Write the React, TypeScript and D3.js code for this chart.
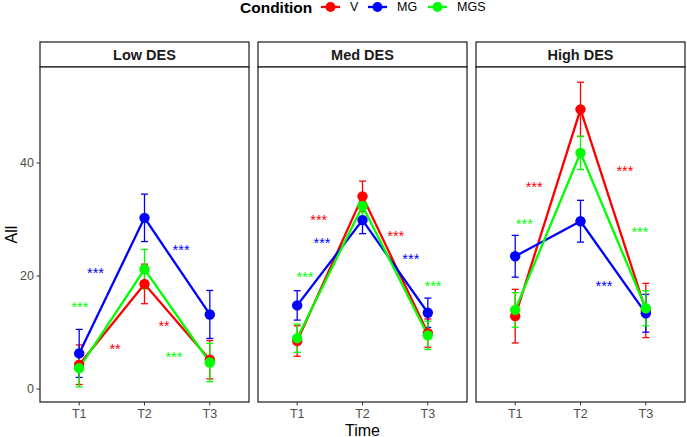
import React from "react";
import * as d3 from "d3";

// facets, x categories and groups
const panels = ["Low DES", "Med DES", "High DES"];
const times = ["T1", "T2", "T3"];
const conditions = ["V", "MG", "MGS"];

// mean per condition (rows V, MG, MGS) at T1..T3
const lowMean = [
  [4.3, 18.6, 5.2],
  [6.3, 30.3, 13.2],
  [3.7, 21.2, 4.7],
];
const medMean = [
  [8.5, 34.1, 9.9],
  [14.8, 29.9, 13.5],
  [9.0, 32.4, 9.5],
];
const highMean = [
  [12.9, 49.5, 13.9],
  [23.5, 29.7, 13.4],
  [14.0, 41.8, 14.3],
];

// error bar half widths, same layout
const lowErr = [
  [3.5, 3.5, 3.4],
  [4.25, 4.2, 4.25],
  [3.3, 3.5, 3.4],
];
const medErr = [
  [2.7, 2.7, 2.5],
  [2.6, 2.4, 2.6],
  [2.5, 1.8, 2.5],
];
const highErr = [
  [4.75, 4.8, 4.8],
  [3.7, 3.7, 3.35],
  [3.05, 2.95, 3.1],
];

// significance labels: [condition index, x (1 = T1), y, label]
type Star = [number, number, number, string];
const lowStars: Star[] = [
  [1, 1.25, 21.0, "***"],
  [1, 2.56, 25.2, "***"],
  [2, 1.01, 15.1, "***"],
  [0, 1.55, 7.6, "**"],
  [0, 2.3, 11.6, "**"],
  [2, 2.45, 6.2, "***"],
];
const medStars: Star[] = [
  [0, 1.33, 30.5, "***"],
  [0, 2.51, 27.7, "***"],
  [1, 1.38, 26.3, "***"],
  [1, 2.74, 23.6, "***"],
  [2, 1.12, 20.4, "***"],
  [2, 3.08, 18.8, "***"],
];
const highStars: Star[] = [
  [0, 1.29, 36.3, "***"],
  [0, 2.68, 39.2, "***"],
  [2, 1.14, 29.7, "***"],
  [2, 2.91, 28.3, "***"],
  [1, 2.36, 18.8, "***"],
];

const yTicks = [0, 20, 40];

const means = [lowMean, medMean, highMean];
const errs = [lowErr, medErr, highErr];
const stars = [lowStars, medStars, highStars];

const colors = ["#FF0000", "#0000FF", "#00FF00"];
const font = "'Liberation Sans', Arial, Helvetica, sans-serif";

const W = 687;
const H = 437;
const left = 40;
const right = 685;
const gap = 9;
const stripTop = 42;
const stripH = 25;
const plotTop = stripTop + stripH;
const plotBottom = 402;
const panelW = (right - left - 2 * gap) / 3;

// y domain from the error bar extents, expanded 5% each side
const lows = means.flatMap((m, p) => m.flatMap((row, c) => row.map((v, t) => v - errs[p][c][t])));
const highs = means.flatMap((m, p) => m.flatMap((row, c) => row.map((v, t) => v + errs[p][c][t])));
const yMin = d3.min(lows)!;
const yMax = d3.max(highs)!;
const pad = (yMax - yMin) * 0.05;
const y = d3.scaleLinear().domain([yMin - pad, yMax + pad]).range([plotBottom, plotTop]);

const x = d3.scalePoint<string>().domain(times).range([0, panelW]).padding(0.6);

const line = d3
  .line<[number, number]>()
  .x((d) => d[0])
  .y((d) => d[1]);

const App: React.FC = () => {
  const step = x.step();
  const capHalf = 3.5;

  return (
    <div>
      <style>{"body{margin:0}"}</style>
      <svg width={W} height={H} style={{ display: "block", fontFamily: font }}>
        <rect width={W} height={H} fill="white" />

        {/* legend */}
        <g>
          <text x={240} y={7} dominantBaseline="central" fontSize={15.5} fontWeight="bold" fill="#000">
            Condition
          </text>
          {conditions.map((c, i) => {
            const kx = [321, 368, 428][i];
            return (
              <g key={c}>
                <line x1={kx} x2={kx + 19} y1={7} y2={7} stroke={colors[i]} strokeWidth={2.3} />
                <circle cx={kx + 9.5} cy={7} r={5} fill={colors[i]} />
                <text x={kx + 29} y={7} dominantBaseline="central" fontSize={12.5} fill="#000">
                  {c}
                </text>
              </g>
            );
          })}
        </g>

        {panels.map((name, p) => {
          const x0 = left + p * (panelW + gap);
          const px = (t: string) => x0 + (x(t) as number);
          const m = means[p];
          const e = errs[p];
          return (
            <g key={name}>
              {/* strip */}
              <rect x={x0} y={stripTop} width={panelW} height={stripH} fill="white" stroke="#1a1a1a" strokeWidth={1.2} />
              <text
                x={x0 + panelW / 2}
                y={stripTop + stripH / 2}
                textAnchor="middle"
                dominantBaseline="central"
                fontSize={14.5}
                fontWeight="bold"
                fill="#1a1a1a"
              >
                {name}
              </text>

              {/* panel */}
              <rect x={x0} y={plotTop} width={panelW} height={plotBottom - plotTop} fill="white" stroke="#1a1a1a" strokeWidth={1.2} />

              {/* x ticks */}
              {times.map((t) => (
                <g key={t}>
                  <line x1={px(t)} x2={px(t)} y1={plotBottom} y2={plotBottom + 3.5} stroke="#333" strokeWidth={1} />
                  <text x={px(t)} y={plotBottom + 12} textAnchor="middle" dominantBaseline="central" fontSize={12.5} fill="#4D4D4D">
                    {t}
                  </text>
                </g>
              ))}

              {/* y ticks on first panel */}
              {p === 0 &&
                yTicks.map((v) => (
                  <g key={v}>
                    <line x1={x0 - 3.5} x2={x0} y1={y(v)} y2={y(v)} stroke="#333" strokeWidth={1} />
                    <text x={x0 - 6} y={y(v)} textAnchor="end" dominantBaseline="central" fontSize={12.5} fill="#4D4D4D">
                      {v}
                    </text>
                  </g>
                ))}

              {/* error bars */}
              {m.map((row, c) =>
                row.map((v, t) => {
                  const cx = px(times[t]);
                  const top = y(v + e[c][t]);
                  const bot = y(v - e[c][t]);
                  return (
                    <g key={`e${c}${t}`} stroke={colors[c]} strokeWidth={1.3}>
                      <line x1={cx} x2={cx} y1={top} y2={bot} />
                      <line x1={cx - capHalf} x2={cx + capHalf} y1={top} y2={top} />
                      <line x1={cx - capHalf} x2={cx + capHalf} y1={bot} y2={bot} />
                    </g>
                  );
                })
              )}

              {/* lines */}
              {m.map((row, c) => (
                <path
                  key={`l${c}`}
                  d={line(row.map((v, t) => [px(times[t]), y(v)] as [number, number])) || ""}
                  fill="none"
                  stroke={colors[c]}
                  strokeWidth={2.3}
                />
              ))}

              {/* points */}
              {m.map((row, c) =>
                row.map((v, t) => <circle key={`p${c}${t}`} cx={px(times[t])} cy={y(v)} r={5.2} fill={colors[c]} />)
              )}

              {/* significance labels */}
              {stars[p].map(([c, xu, yv, label], i) => (
                <text
                  key={`s${i}`}
                  x={px(times[0]) + (xu - 1) * step}
                  y={y(yv) + 8}
                  textAnchor="middle"
                  fontSize={14.5}
                  fill={colors[c]}
                >
                  {label}
                </text>
              ))}
            </g>
          );
        })}

        {/* axis titles */}
        <text x={(left + right) / 2} y={430} textAnchor="middle" dominantBaseline="central" fontSize={16} fill="#000">
          Time
        </text>
        <text
          transform={`translate(11, ${(plotTop + plotBottom) / 2}) rotate(-90)`}
          textAnchor="middle"
          dominantBaseline="central"
          fontSize={16}
          fill="#000"
        >
          All
        </text>
      </svg>
    </div>
  );
};

export default App;
